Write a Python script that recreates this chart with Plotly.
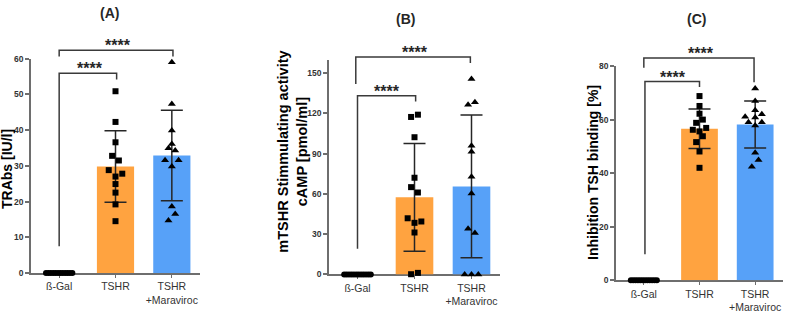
import numpy as np
import plotly.graph_objects as go

W, H = 787, 313

# ---------------- data ----------------
categories = ["ß-Gal", "TSHR", "TSHR<br>+Maraviroc"]
panel_titles = ["(A)", "(B)", "(C)"]
y_titles = ["TRAbs [IU/l]", "mTSHR Stimmulating activity<br>cAMP [pmol/ml]", "Inhibition TSH binding [%]"]

A_bgal = [0] * 12
A_tshr = [50.9, 42.3, 36.6, 32.8, 31.5, 28.8, 27.8, 27.0, 24.9, 22.5, 19.2, 14.5]
A_mar = [59.0, 47.3, 39.9, 36.1, 34.9, 34.3, 31.6, 31.6, 29.8, 18.6, 16.5, 14.7]
A_mean = [29.8, 32.9]
A_sd = [10.0, 12.7]

B_bgal = [0] * 12
B_tshr = [119.1, 117.4, 102.3, 72.1, 65.1, 61.1, 41.9, 39.5, 38.5, 31.3, 1.2, 0.2]
B_mar = [145.7, 128.4, 126.5, 96.0, 91.5, 72.8, 60.4, 34.0, 30.9, 0, 0, 0]
B_mean = [57.5, 65.6]
B_sd = [40.2, 53.2]

C_bgal = [0] * 12
C_tshr = [68.8, 65.1, 62.2, 60.0, 58.8, 56.9, 56.2, 55.6, 53.8, 51.6, 48.1, 42.0]
C_mar = [71.6, 67.0, 63.5, 62.0, 61.1, 60.8, 59.0, 59.0, 57.8, 47.6, 44.9, 42.4]
C_mean = [56.6, 58.2]
C_sd = [7.4, 8.8]

A_ticks = [0, 10, 20, 30, 40, 50, 60]
B_ticks = [0, 30, 60, 90, 120, 150]
C_ticks = [0, 20, 40, 60, 80]

# significance brackets: (left x, right x, top y, left end y, right end y, label x)
A_brackets = [(0.0, 1.02, 55.95, 7.5, 54.2, 0.54), (0.0, 2.02, 62.4, 60.6, 60.6, 1.04)]
B_brackets = [(0.0, 1.02, 133.2, 19.2, 129.0, 0.52), (-0.03, 1.98, 162.0, 142.0, 157.7, 1.01)]
C_brackets = [(0.02, 1.0, 74.2, 9.7, 72.2, 0.53), (0.0, 1.98, 83.0, 79.4, 74.0, 1.03)]
sig_label = "****"

# ---------------- layout geometry (pixels) ----------------
jit_pts = {
    "A": ([0, 0, 0, -1, 1, -2, 2, 0, 0, 0, 0, 0], [0, 0, 0, 0, -1, 1, -2, 2, 0, 0, 1, -1]),
    "B": ([1, -1, 0, 0, -1, 1, -2, 2, 0, 0, 1, -1], [0, 1, -1, 0, 0, 0, 0, -1, 1, -2, 0, 2]),
    "C": ([0, 0, 0, 1, -1, 2, -2, 0, 1, -1, 0, 0], [0, 0, 0, 2, -3, 0, -2, 2, 0, 0, 1, -1]),
}

panels = [
    dict(key="A", bgal=A_bgal, tshr=A_tshr, mar=A_mar, mean=A_mean, sd=A_sd, ticks=A_ticks,
         yrange=60, ext=75, br=A_brackets, x0=31, x1=200, y0=277.7, ppu=222 / 60,
         title_xy=(109.5, 8.5), ytitle_x=7, ytitle_y=170, ytitle_size=14),
    dict(key="B", bgal=B_bgal, tshr=B_tshr, mar=B_mar, mean=B_mean, sd=B_sd, ticks=B_ticks,
         yrange=160, ext=200, br=B_brackets, x0=329, x1=500, y0=279.3, ppu=208.6 / 150,
         title_xy=(405, 14), ytitle_x=293, ytitle_y=152, ytitle_size=14.5),
    dict(key="C", bgal=C_bgal, tshr=C_tshr, mar=C_mar, mean=C_mean, sd=C_sd, ticks=C_ticks,
         yrange=80, ext=100, br=C_brackets, x0=616, x1=783, y0=285.3, ppu=222 / 80,
         title_xy=(696.5, 14), ytitle_x=593, ytitle_y=174, ytitle_size=14),
]

ORANGE = "#FFA340"
BLUE = "#57A1F8"
AXIS = "#6e6e6e"
DARK = "#262626"
JIT = 0.06

fig = go.Figure()
layout = dict(
    width=W, height=H, margin=dict(l=0, r=0, t=0, b=0),
    paper_bgcolor="white", plot_bgcolor="rgba(0,0,0,0)", showlegend=False,
    font=dict(family="Liberation Sans, Arial", color=DARK),
)
annotations = []

for i, p in enumerate(panels):
    xn = "x" if i == 0 else f"x{i + 1}"
    yd_n = 2 * i + 1
    yb_n = 2 * i + 2
    yd = "y" if yd_n == 1 else f"y{yd_n}"
    yb = f"y{yb_n}"
    xdom = [p["x0"] / W, p["x1"] / W]
    bottom = 1 - p["y0"] / H
    dtop = 1 - (p["y0"] - p["yrange"] * p["ppu"]) / H
    btop = 1 - (p["y0"] - p["ext"] * p["ppu"]) / H

    # bars + SD
    fig.add_trace(go.Bar(
        x=[1, 2], y=p["mean"], width=0.66, xaxis=xn, yaxis=yd,
        marker=dict(color=[ORANGE, BLUE], line=dict(width=0)),
        error_y=dict(type="data", array=p["sd"], visible=True, color=DARK, thickness=1.5, width=11),
    ))
    # individual points
    n0 = len(p["bgal"])
    off0 = np.linspace(-0.234, 0.234, n0)
    fig.add_trace(go.Scatter(
        x=0 + off0, y=p["bgal"], mode="markers", xaxis=xn, yaxis=yd, cliponaxis=False,
        marker=dict(symbol="circle", size=6, color="black", line=dict(width=0)),
    ))
    jt, jm = jit_pts[p["key"]]
    fig.add_trace(go.Scatter(
        x=1 + np.array(jt) * JIT, y=p["tshr"], mode="markers", xaxis=xn, yaxis=yd, cliponaxis=False,
        marker=dict(symbol="square", size=6, color="black"),
    ))
    fig.add_trace(go.Scatter(
        x=2 + np.array(jm) * JIT, y=p["mar"], mode="markers", xaxis=xn, yaxis=yd, cliponaxis=False,
        marker=dict(symbol="triangle-up", size=7, color="black"),
    ))
    # brackets on the extended (hidden) axis
    for (xl, xr, yt, yl, yr, lx) in p["br"]:
        fig.add_trace(go.Scatter(
            x=[xl, xl, xr, xr], y=[yl, yt, yt, yr], mode="lines", xaxis=xn, yaxis=yb,
            line=dict(color="#3a3a3a", width=1.5), hoverinfo="skip",
        ))
        annotations.append(dict(
            x=lx, y=yt, xref=xn, yref=yb, text=sig_label, showarrow=False,
            xanchor="center", yanchor="bottom", yshift=-6,
            font=dict(size=16, color=DARK, weight="bold"),
        ))

    xkey = "xaxis" if i == 0 else f"xaxis{i + 1}"
    layout[xkey] = dict(
        domain=xdom, range=[-0.5, 2.5], anchor=yd, layer="below traces",
        tickvals=[0, 1, 2], ticktext=categories,
        showline=True, linecolor=AXIS, linewidth=1.5,
        ticks="outside", ticklen=3, tickwidth=1, tickcolor=AXIS,
        tickfont=dict(size=10.5, color="#333333"),
        showgrid=False, zeroline=False, fixedrange=True,
    )
    ydkey = "yaxis" if yd_n == 1 else f"yaxis{yd_n}"
    layout[ydkey] = dict(
        domain=[bottom, dtop], range=[0, p["yrange"]], anchor=xn, layer="below traces",
        tickvals=p["ticks"], showline=True, linecolor=AXIS, linewidth=1.5,
        ticks="outside", ticklen=4, tickwidth=1.5, tickcolor=AXIS,
        tickfont=dict(size=8.5, color="#333333", weight="bold"),
        showgrid=False, zeroline=False, fixedrange=True,
    )
    layout[f"yaxis{yb_n}"] = dict(
        domain=[bottom, btop], range=[0, p["ext"]], anchor=xn,
        visible=False, showgrid=False, zeroline=False, fixedrange=True,
    )

    # panel title
    annotations.append(dict(
        x=p["title_xy"][0] / W, y=1 - p["title_xy"][1] / H, xref="paper", yref="paper",
        text=panel_titles[i], showarrow=False, xanchor="center", yanchor="middle",
        font=dict(size=14, color=DARK, weight="bold"),
    ))
    # y title
    annotations.append(dict(
        x=p["ytitle_x"] / W, y=1 - p["ytitle_y"] / H, xref="paper", yref="paper",
        text=y_titles[i], showarrow=False, xanchor="center", yanchor="middle", textangle=-90,
        font=dict(size=p["ytitle_size"], color="black", weight="bold"),
    ))

layout["annotations"] = annotations
fig.update_layout(**layout)
fig.write_html("out.html")
